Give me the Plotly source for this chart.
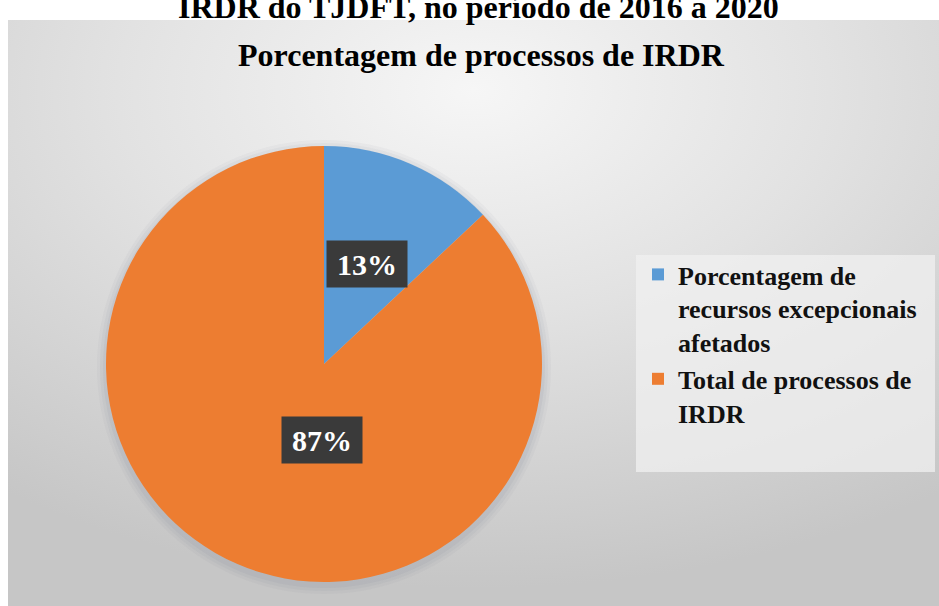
import base64
import math
import plotly.graph_objects as go

# ---- data ----
labels = ["Porcentagem de<br>recursos excepcionais<br>afetados", "Total de processos de<br>IRDR"]
values = [13, 87]
pct_text = ["13%", "87%"]
colors = ["#5B9BD5", "#ED7D31"]

title_top = "IRDR do TJDFT, no período de 2016 a 2020"
chart_title = "Porcentagem de processos de IRDR"

W, H = 939, 606
FONT = "Liberation Serif"

# pie domain (pixel geometry -> paper)
cx_px, cy_px, r_px = 324, 364, 218
dom_x = [(cx_px - r_px) / W, (cx_px + r_px) / W]
dom_y = [(H - cy_px - r_px) / H, (H - cy_px + r_px) / H]

fig = go.Figure()
fig.add_trace(go.Pie(
    labels=labels, values=values, sort=False, direction="clockwise", rotation=0,
    marker=dict(colors=colors, line=dict(width=0)),
    textinfo="none", hoverinfo="label+percent",
    domain=dict(x=dom_x, y=dom_y),
))

# background gradient panel
svg = '''<svg xmlns="http://www.w3.org/2000/svg" width="931" height="586" viewBox="0 0 931 586">
<defs><radialGradient id="g" cx="0.5" cy="0.12" r="0.85" gradientUnits="objectBoundingBox">
<stop offset="0" stop-color="#f6f6f6"/><stop offset="0.45" stop-color="#e2e2e2"/><stop offset="1" stop-color="#c6c6c6"/>
</radialGradient></defs><rect width="931" height="586" fill="url(#g)"/></svg>'''
src = "data:image/svg+xml;base64," + base64.b64encode(svg.encode()).decode()
panel_x0, panel_y0 = 8, 20
fig.add_layout_image(dict(
    source=src, xref="paper", yref="paper", x=panel_x0 / W, y=1 - panel_y0 / H,
    sizex=1 - panel_x0 / W, sizey=1 - panel_y0 / H, xanchor="left", yanchor="top",
    sizing="stretch", layer="below",
))

# soft shadow behind pie (derived from pie domain)
for k, a in [(9, 0.05), (6, 0.06), (3, 0.08)]:
    fig.add_shape(type="circle", xref="paper", yref="paper",
                  x0=dom_x[0] - k / W, x1=dom_x[1] + k / W,
                  y0=dom_y[0] - (k + 3) / H, y1=dom_y[1] + (k - 3) / H,
                  fillcolor=f"rgba(110,120,135,{a})", line=dict(width=0), layer="below")

# legend box
fig.add_shape(type="rect", xref="paper", yref="paper",
              x0=636 / W, x1=935 / W, y0=1 - 472 / H, y1=1 - 255 / H,
              fillcolor="rgba(240,240,240,0.75)", line=dict(width=0), layer="below")

# percentage labels in dark boxes, placed along slice mid-angles
total = sum(values)
cx = (dom_x[0] + dom_x[1]) / 2
cy = (dom_y[0] + dom_y[1]) / 2
rx = (dom_x[1] - dom_x[0]) / 2
ry = (dom_y[1] - dom_y[0]) / 2
cum = 0
for v, t in zip(values, pct_text):
    mid = (cum + v / 2) / total * 2 * math.pi
    cum += v
    fig.add_annotation(
        x=cx + 0.5 * rx * math.sin(mid), y=cy + 0.5 * ry * math.cos(mid),
        xref="paper", yref="paper", text=f"<b>{t}</b>", showarrow=False,
        font=dict(family=FONT, size=30, color="white"),
        bgcolor="#3a3a3a", width=80, height=46, borderpad=0,
    )

# titles
fig.add_annotation(x=478 / W, y=1, xref="paper", yref="paper", yanchor="bottom", yshift=-27,
                   text=f"<b>{title_top}</b>", showarrow=False,
                   font=dict(family=FONT, size=32, color="black"))
fig.add_annotation(x=482 / W, y=1 - 55 / H, xref="paper", yref="paper", yanchor="middle",
                   text=f"<b>{chart_title}</b>", showarrow=False,
                   font=dict(family=FONT, size=32, color="black"))

fig.update_layout(
    width=W, height=H, margin=dict(l=0, r=0, t=0, b=0),
    paper_bgcolor="white", plot_bgcolor="rgba(0,0,0,0)",
    showlegend=True,
    legend=dict(x=638 / W, y=1 - 251 / H, xanchor="left", yanchor="top",
                bgcolor="rgba(0,0,0,0)", valign="top",
                font=dict(family=FONT, size=26, color="#111", weight="bold"),
                tracegroupgap=0),
)

fig.write_html("out.html", config={"displayModeBar": False},
               post_script="document.body.style.margin='0';document.body.style.overflow='hidden';")
